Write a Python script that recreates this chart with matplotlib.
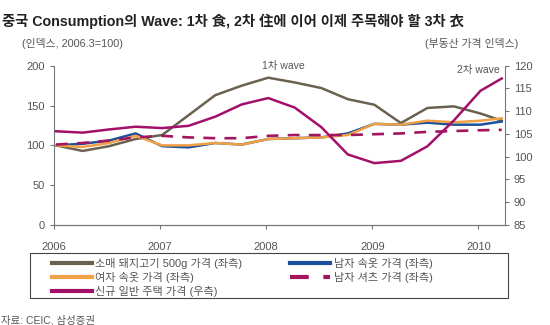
import numpy as np
import matplotlib.pyplot as plt
from matplotlib.patches import Rectangle

plt.rcParams['font.family'] = ['Liberation Sans', 'Noto Sans CJK KR', 'DejaVu Sans']

# quarterly observations, last point early 2010
x = [2006.02 + 0.25 * q for q in range(17)] + [2010.22]

pork = [100, 93, 99, 108, 113, 138, 163, 175, 185, 179, 172, 158, 151, 128, 147, 149, 140, 131]
men_underwear = [100, 102, 106, 115, 99, 97.5, 103, 101, 108, 109, 110, 115, 127, 126, 128.5, 126, 126, 130]
women_underwear = [100, 98, 103, 112, 100, 100, 103, 101, 108, 109, 110, 113, 127, 126, 131, 129, 131, 134]
men_shirt = [101, 103, 106, 110, 112, 110, 109, 109, 112, 113, 113, 113, 114, 115, 117, 118, 119, 119.5]
house = [105.6, 105.3, 106.0, 106.6, 106.3, 106.8, 108.8, 111.5, 112.9, 110.8, 106.5, 100.5,
         98.6, 99.1, 102.3, 108.0, 114.5, 117.2]

years = [2006, 2007, 2008, 2009, 2010]

labels = ['소매 돼지고기 500g 가격 (좌측)', '남자 속옷 가격 (좌측)', '여자 속옷 가격 (좌측)',
          '남자 셔츠 가격 (좌측)', '신규 일반 주택 가격 (우측)']

grey = '#777777'
txt = '#555555'

fig = plt.figure(figsize=(5.5, 3.25), dpi=100)
ax = fig.add_axes([0.098, 0.3077, 0.82, 0.49])
ax2 = ax.twinx()

l1, = ax.plot(x, pork, color='#6b6150', lw=1.8)
l2, = ax.plot(x, men_underwear, color='#1c4f9c', lw=1.8)
l3, = ax.plot(x, women_underwear, color='#f0a045', lw=1.8)
l4, = ax.plot(x, men_shirt, color='#a3155f', lw=1.9, dashes=(4.5, 3.5))
l5, = ax2.plot(x, house, color='#a3106a', lw=1.8)

ax.set_xlim(2006, 2010.25)
ax.set_ylim(0, 200)
ax.set_yticks([0, 50, 100, 150, 200])
ax2.set_ylim(85, 120)
ax2.set_yticks(range(85, 121, 5))
ax.set_xticks(years)

for a in (ax, ax2):
    for s in a.spines.values():
        s.set_color(grey)
    a.spines['top'].set_visible(False)
    a.tick_params(colors=grey, labelcolor=txt, labelsize=8, length=3, width=0.8)
ax.spines['right'].set_visible(False)
ax2.spines['left'].set_visible(False)
ax.tick_params(axis='x', pad=9)

ax.text(2008.16, 200, '1차 wave', fontsize=7.5, color=txt, ha='center', va='center')
ax.text(2010.2, 195, '2차 wave', fontsize=7.5, color=txt, ha='right', va='center')

fig.text(0.004, 0.935, '중국 Consumption의 Wave: 1차 食, 2차 住에 이어 이제 주목해야 할 3차 衣',
         fontsize=10.3, color='#222222', va='center', fontweight='bold')
fig.text(0.04, 0.865, '(인덱스, 2006.3=100)', fontsize=7.8, color=txt, va='center')
fig.text(0.943, 0.865, '(부동산 가격 인덱스)', fontsize=7.8, color=txt, va='center', ha='right')
fig.text(0.002, 0.014, '자료: CEIC, 삼성증권', fontsize=7.5, color=txt, va='center')

# legend box drawn separately, two legend columns placed inside it
fig.patches.append(Rectangle((0.0545, 0.083), 0.869, 0.138, transform=fig.transFigure,
                             fill=False, edgecolor='#444444', linewidth=0.8))

leg_kw = dict(loc='upper left', fontsize=8, frameon=False, handlelength=3.6,
              handletextpad=0.3, labelspacing=0.25, borderpad=0, borderaxespad=0)
leg1 = fig.legend([l1, l3, l5], [labels[0], labels[2], labels[4]],
                  bbox_to_anchor=(0.094, 0.205), **leg_kw)
leg2 = fig.legend([l2, l4], [labels[1], labels[3]],
                  bbox_to_anchor=(0.528, 0.205), **leg_kw)
for leg in (leg1, leg2):
    for t in leg.get_texts():
        t.set_color(txt)
    for h in leg.legend_handles:
        h.set_linewidth(3)

fig.savefig('out.png', dpi=100)
